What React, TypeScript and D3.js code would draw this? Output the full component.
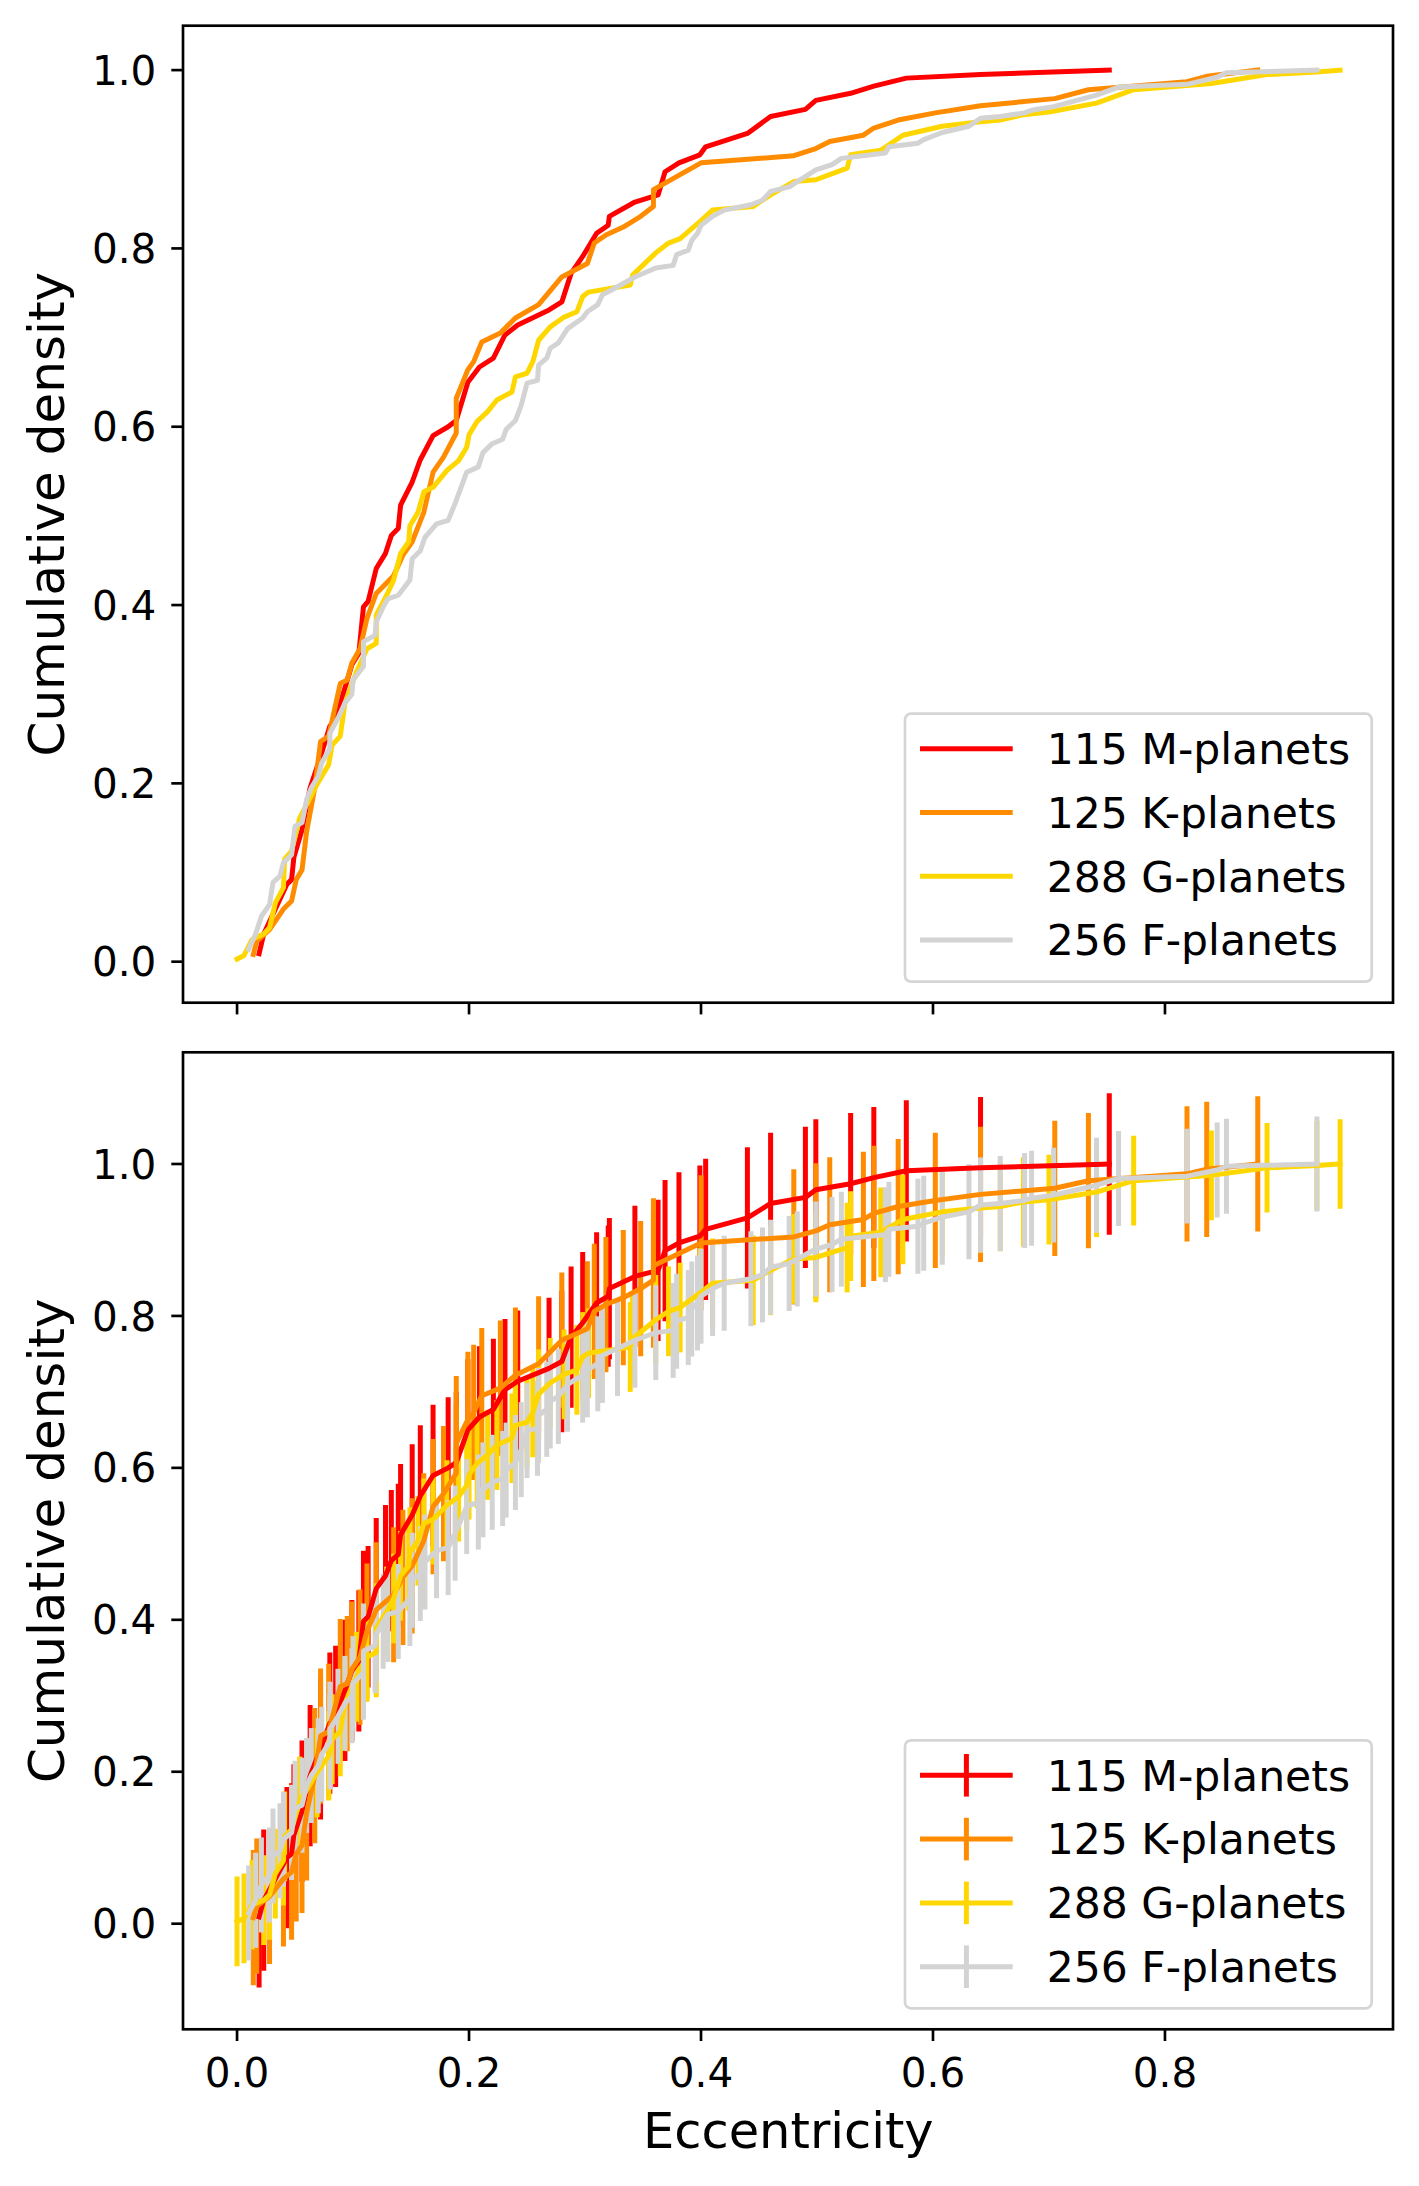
import React from "react";
import * as d3 from "d3";

// ---- data ----
const seriesNames = ["115 M-planets", "125 K-planets", "288 G-planets", "256 F-planets"];
const seriesColors = ["#ff0000", "#ff8c00", "#ffd700", "#d3d3d3"];
const seriesErr = [0.093, 0.089, 0.059, 0.0625];

const mEcc = [0.019,0.023,0.043,0.047,0.049,0.056,0.063,0.072,0.080,0.085,0.093,0.099,0.105,0.109,0.113,0.120,0.128,0.133,0.139,0.141,0.151,0.158,0.169,0.182,0.189,0.199,0.209,0.221,0.231,0.242,0.269,0.280,0.288,0.298,0.310,0.320,0.321,0.343,0.363,0.369,0.381,0.399,0.404,0.440,0.460,0.490,0.499,0.529,0.549,0.577,0.641,0.752];
const mCdf = [0.009,0.031,0.087,0.092,0.117,0.148,0.195,0.230,0.264,0.273,0.307,0.333,0.346,0.398,0.404,0.441,0.458,0.478,0.486,0.512,0.538,0.563,0.590,0.600,0.607,0.650,0.667,0.677,0.703,0.714,0.731,0.740,0.772,0.791,0.817,0.826,0.836,0.852,0.860,0.886,0.896,0.905,0.914,0.929,0.948,0.956,0.966,0.974,0.982,0.991,0.995,1.0];

const kEcc = [0.014,0.017,0.028,0.040,0.047,0.051,0.056,0.060,0.067,0.072,0.079,0.089,0.095,0.099,0.106,0.112,0.120,0.135,0.143,0.151,0.161,0.169,0.178,0.189,0.189,0.199,0.204,0.211,0.227,0.240,0.260,0.280,0.302,0.308,0.318,0.333,0.348,0.359,0.359,0.400,0.480,0.499,0.511,0.540,0.549,0.570,0.602,0.641,0.705,0.734,0.819,0.836,0.880];
const kCdf = [0.008,0.023,0.036,0.059,0.068,0.092,0.103,0.146,0.195,0.247,0.253,0.312,0.316,0.335,0.351,0.385,0.413,0.433,0.456,0.471,0.504,0.549,0.566,0.593,0.632,0.664,0.673,0.695,0.705,0.722,0.737,0.768,0.783,0.806,0.815,0.824,0.836,0.847,0.866,0.896,0.904,0.912,0.920,0.927,0.935,0.944,0.952,0.960,0.968,0.978,0.987,0.993,1.0];

const gEcc = [0.0,0.006,0.013,0.023,0.028,0.033,0.040,0.041,0.047,0.054,0.069,0.079,0.082,0.089,0.093,0.103,0.112,0.120,0.120,0.129,0.135,0.141,0.148,0.149,0.156,0.161,0.169,0.181,0.191,0.198,0.200,0.207,0.216,0.224,0.237,0.240,0.250,0.255,0.260,0.270,0.282,0.293,0.298,0.303,0.339,0.341,0.361,0.372,0.382,0.399,0.410,0.445,0.460,0.480,0.499,0.526,0.529,0.555,0.574,0.608,0.641,0.658,0.678,0.700,0.741,0.773,0.840,0.888,0.931,0.951];
const gCdf = [0.003,0.007,0.025,0.031,0.038,0.066,0.083,0.115,0.124,0.161,0.199,0.221,0.243,0.253,0.290,0.325,0.351,0.357,0.389,0.411,0.428,0.458,0.471,0.489,0.504,0.527,0.532,0.551,0.562,0.577,0.591,0.606,0.617,0.630,0.639,0.656,0.660,0.673,0.697,0.712,0.723,0.729,0.746,0.751,0.759,0.770,0.795,0.806,0.811,0.830,0.843,0.847,0.860,0.875,0.877,0.890,0.905,0.910,0.927,0.937,0.942,0.944,0.950,0.953,0.963,0.978,0.985,0.995,0.998,1.0];

const fEcc = [0.010,0.016,0.021,0.028,0.031,0.037,0.040,0.047,0.050,0.056,0.060,0.064,0.070,0.073,0.080,0.080,0.087,0.093,0.099,0.100,0.109,0.109,0.119,0.120,0.126,0.130,0.139,0.149,0.151,0.158,0.162,0.172,0.182,0.188,0.198,0.208,0.212,0.220,0.229,0.232,0.240,0.245,0.250,0.259,0.260,0.267,0.270,0.277,0.285,0.298,0.302,0.311,0.315,0.328,0.343,0.361,0.376,0.379,0.389,0.392,0.397,0.400,0.410,0.420,0.443,0.453,0.460,0.476,0.483,0.499,0.513,0.521,0.559,0.562,0.587,0.592,0.608,0.631,0.641,0.658,0.679,0.685,0.704,0.741,0.760,0.819,0.845,0.853,0.931];
const fCdf = [0.014,0.031,0.051,0.064,0.089,0.096,0.111,0.120,0.152,0.156,0.182,0.195,0.208,0.223,0.239,0.256,0.273,0.290,0.300,0.316,0.331,0.359,0.366,0.381,0.398,0.407,0.411,0.428,0.452,0.461,0.476,0.491,0.495,0.514,0.549,0.555,0.571,0.581,0.586,0.597,0.607,0.624,0.649,0.652,0.669,0.677,0.688,0.694,0.710,0.722,0.729,0.737,0.748,0.757,0.768,0.778,0.781,0.793,0.798,0.809,0.817,0.826,0.836,0.843,0.849,0.854,0.864,0.869,0.875,0.888,0.894,0.901,0.907,0.914,0.918,0.922,0.930,0.937,0.946,0.948,0.952,0.955,0.959,0.972,0.981,0.984,0.992,0.997,1.0];

const eccs = [mEcc, kEcc, gEcc, fEcc];
const cdfs = [mCdf, kCdf, gCdf, fCdf];

const xTicks = [0.0, 0.2, 0.4, 0.6, 0.8];
const yTicks = [0.0, 0.2, 0.4, 0.6, 0.8, 1.0];

// ---- layout ----
const W = 1419;
const H = 2186;
const LEFT = 183;
const RIGHT = 1393;
const FONT = "'DejaVu Sans', sans-serif";
const AX_LW = 2.67;
const TICK_LEN = 11.7;
const LINE_W = 5;

const x = d3.scaleLinear().domain([-0.0466, 0.9966]).range([LEFT, RIGHT]);

type Panel = { top: number; bottom: number; domain: [number, number]; errors: boolean; showX: boolean };
const panels: Panel[] = [
  { top: 25.7, bottom: 1002.7, domain: [-0.046, 1.0498], errors: false, showX: false },
  { top: 1052.3, bottom: 2029.3, domain: [-0.139, 1.147], errors: true, showX: true },
];

function PanelView({ p }: { p: Panel }) {
  const y = d3.scaleLinear().domain(p.domain).range([p.bottom, p.top]);
  const line = d3
    .line<[number, number]>()
    .x((d) => x(d[0]))
    .y((d) => y(d[1]));
  const clipId = `clip-${Math.round(p.top)}`;
  const legTop = p.bottom - 21 - 268;
  const legLeft = 905;
  const rowY = (i: number) => legTop + 35 + i * 63.8;
  return (
    <g>
      <defs>
        <clipPath id={clipId}>
          <rect x={LEFT} y={p.top} width={RIGHT - LEFT} height={p.bottom - p.top} />
        </clipPath>
      </defs>
      <g clipPath={`url(#${clipId})`}>
        {p.errors &&
          eccs.map((ex, si) => (
            <g key={"e" + si} stroke={seriesColors[si]} strokeWidth={LINE_W}>
              {ex.map((e, i) => (
                <line
                  key={i}
                  x1={x(e)}
                  x2={x(e)}
                  y1={y(cdfs[si][i] - seriesErr[si])}
                  y2={y(cdfs[si][i] + seriesErr[si])}
                />
              ))}
            </g>
          ))}
        {eccs.map((ex, si) => (
          <path
            key={"l" + si}
            d={line(ex.map((e, i) => [e, cdfs[si][i]] as [number, number])) || ""}
            fill="none"
            stroke={seriesColors[si]}
            strokeWidth={LINE_W}
            strokeLinejoin="round"
            strokeLinecap="square"
          />
        ))}
      </g>
      {/* frame */}
      <rect
        x={LEFT}
        y={p.top}
        width={RIGHT - LEFT}
        height={p.bottom - p.top}
        fill="none"
        stroke="#000"
        strokeWidth={AX_LW}
      />
      {/* y ticks */}
      {yTicks.map((t) => (
        <g key={"y" + t}>
          <line x1={LEFT - TICK_LEN} x2={LEFT} y1={y(t)} y2={y(t)} stroke="#000" strokeWidth={AX_LW} />
          <text
            x={LEFT - TICK_LEN - 15}
            y={y(t)}
            dy="0.36em"
            textAnchor="end"
            fontFamily={FONT}
            fontSize={40.5}
            fill="#000"
          >
            {t.toFixed(1)}
          </text>
        </g>
      ))}
      {/* x ticks */}
      {xTicks.map((t) => (
        <g key={"x" + t}>
          <line x1={x(t)} x2={x(t)} y1={p.bottom} y2={p.bottom + TICK_LEN} stroke="#000" strokeWidth={AX_LW} />
          {p.showX && (
            <text x={x(t)} y={2087.3} textAnchor="middle" fontFamily={FONT} fontSize={40.5} fill="#000">
              {t.toFixed(1)}
            </text>
          )}
        </g>
      ))}
      {/* y label */}
      <text
        transform={`translate(64,${(p.top + p.bottom) / 2}) rotate(-90)`}
        textAnchor="middle"
        fontFamily={FONT}
        fontSize={50}
        fill="#000"
      >
        Cumulative density
      </text>
      {/* legend */}
      <rect
        x={legLeft}
        y={legTop}
        width={466.7}
        height={268}
        rx={6}
        ry={6}
        fill="#fff"
        fillOpacity={0.8}
        stroke="#d5d5d5"
        strokeWidth={2.67}
      />
      {seriesNames.map((name, i) => (
        <g key={"lg" + i}>
          <line x1={920} x2={1012.7} y1={rowY(i)} y2={rowY(i)} stroke={seriesColors[i]} strokeWidth={LINE_W} />
          {p.errors && (
            <line
              x1={966.4}
              x2={966.4}
              y1={rowY(i) - 21.3}
              y2={rowY(i) + 21.3}
              stroke={seriesColors[i]}
              strokeWidth={LINE_W}
            />
          )}
          <text x={1046.7} y={rowY(i)} dy="0.36em" fontFamily={FONT} fontSize={42.5} fill="#000">
            {name}
          </text>
        </g>
      ))}
    </g>
  );
}

export default function App() {
  return (
    <svg
      width={W}
      height={H}
      viewBox={`0 0 ${W} ${H}`}
      style={{ position: "absolute", left: 0, top: 0, background: "#fff" }}
    >
      <rect x={0} y={0} width={W} height={H} fill="#fff" />
      {panels.map((p, i) => (
        <PanelView key={i} p={p} />
      ))}
      <text x={788.3} y={2148.3} textAnchor="middle" fontFamily={FONT} fontSize={49.5} fill="#000">
        Eccentricity
      </text>
    </svg>
  );
}
